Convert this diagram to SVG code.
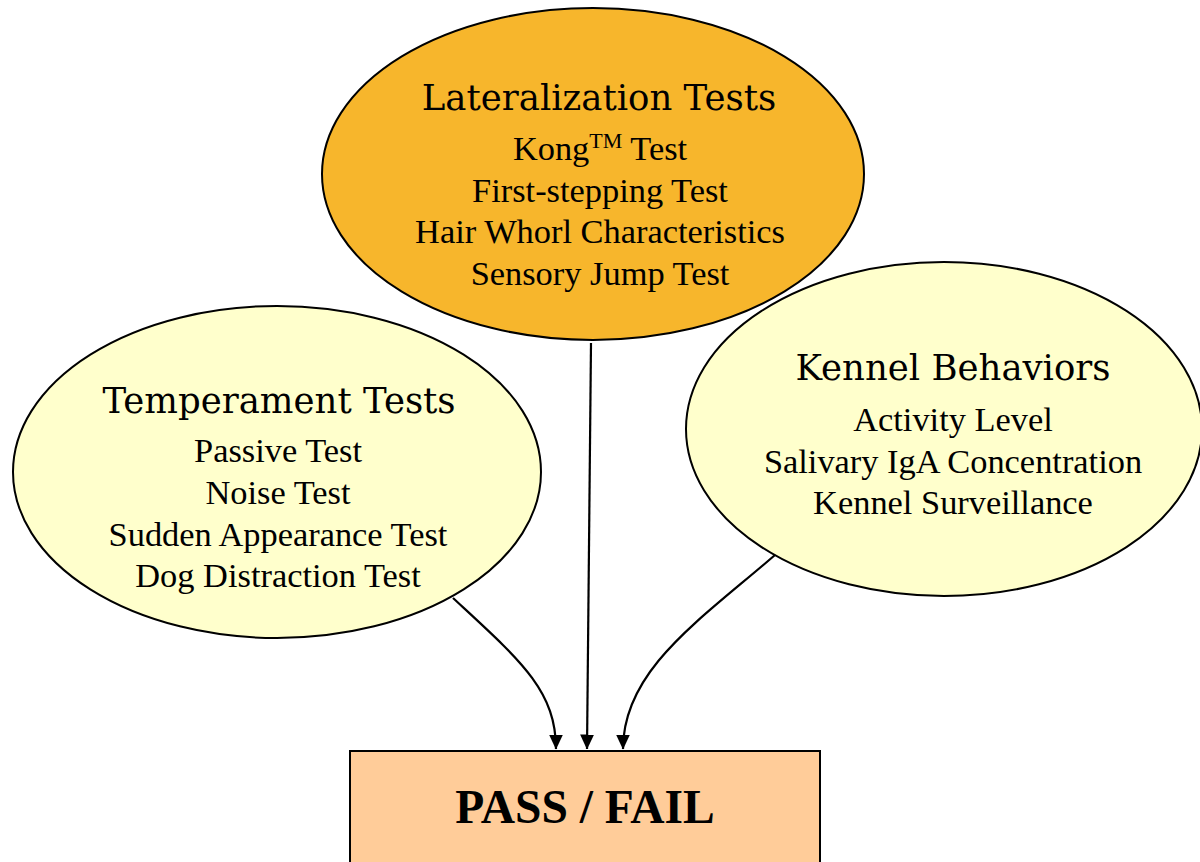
<svg xmlns="http://www.w3.org/2000/svg" width="1200" height="862" viewBox="0 0 1200 862">
<defs>
<style>
.title{font-family:"DejaVu Serif","Liberation Serif",serif;font-size:35.5px;fill:#000;text-anchor:middle}
.item{font-family:"Liberation Serif","Times New Roman",serif;font-size:34.4px;fill:#000;text-anchor:middle}
.node{stroke:#000;stroke-width:2}
.conn{fill:none;stroke:#000;stroke-width:2.2}
</style>
<marker id="arr" viewBox="0 0 15 14" refX="14.5" refY="7" markerWidth="15" markerHeight="14" markerUnits="userSpaceOnUse" orient="auto">
<path d="M0,0 L15,7 L0,14 z" fill="#000"/>
</marker>
</defs>
<rect width="1200" height="862" fill="#fff"/>
<g id="connectors">
<path class="conn" d="M453,598 C520,660 556,690 556,749" marker-end="url(#arr)"/>
<path class="conn" d="M591,343 L587,749" marker-end="url(#arr)"/>
<path class="conn" d="M775,555 C700,620 623,670 623,749" marker-end="url(#arr)"/>
</g>
<g id="lateralization">
<ellipse class="node" cx="593" cy="174" rx="271" ry="166" fill="#F7B62C"/>
<text class="title" x="599" y="110">Lateralization Tests</text>
<text class="item" x="600" y="160">Kong<tspan font-size="22" dy="-12">TM</tspan><tspan dy="12"> Test</tspan></text>
<text class="item" x="600" y="202">First-stepping Test</text>
<text class="item" x="600" y="243">Hair Whorl Characteristics</text>
<text class="item" x="600" y="285">Sensory Jump Test</text>
</g>
<g id="temperament">
<ellipse class="node" cx="277" cy="472" rx="264" ry="166" fill="#FFFFCC"/>
<text class="title" x="279" y="413">Temperament Tests</text>
<text class="item" x="278" y="462">Passive Test</text>
<text class="item" x="278" y="504">Noise Test</text>
<text class="item" x="278" y="546">Sudden Appearance Test</text>
<text class="item" x="278" y="587">Dog Distraction Test</text>
</g>
<g id="kennel">
<ellipse class="node" cx="944" cy="429" rx="258" ry="167" fill="#FFFFCC"/>
<text class="title" x="953" y="380">Kennel Behaviors</text>
<text class="item" x="953" y="431">Activity Level</text>
<text class="item" x="953" y="473">Salivary IgA Concentration</text>
<text class="item" x="953" y="514">Kennel Surveillance</text>
</g>
<g id="passfail">
<rect class="node" x="350" y="751" width="470" height="120" fill="#FFCC99"/>
<text x="585" y="823" font-family="Liberation Serif,'Times New Roman',serif" font-weight="bold" font-size="47.5" text-anchor="middle">PASS / FAIL</text>
</g>
</svg>
